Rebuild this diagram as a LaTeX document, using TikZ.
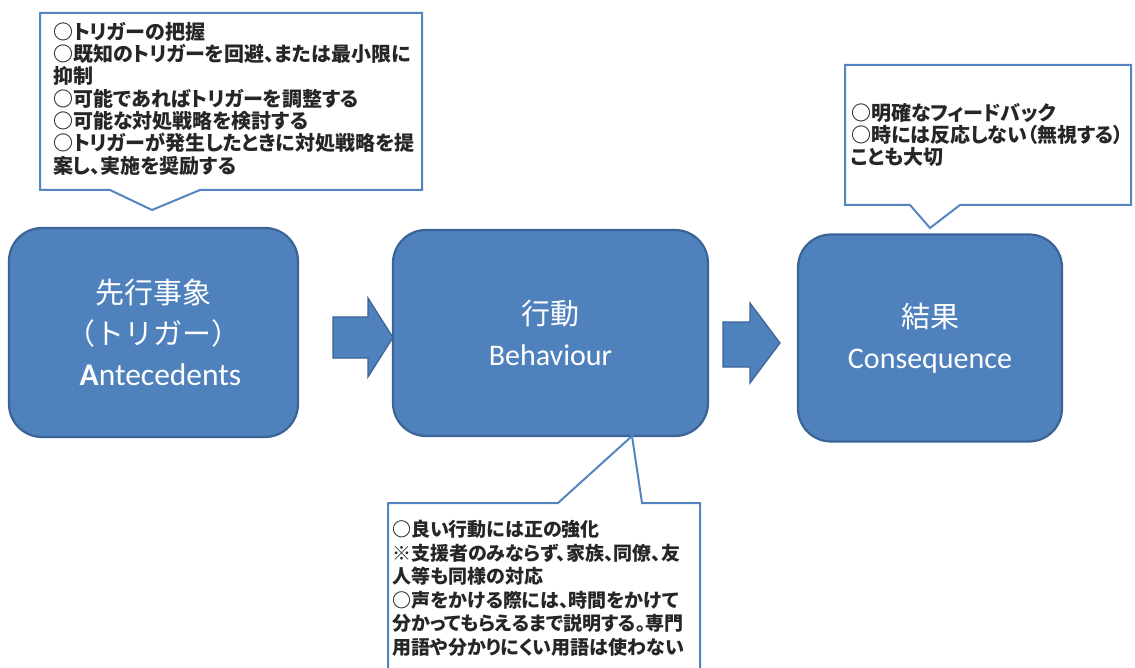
\documentclass[tikz,border=0pt]{standalone}
\usepackage{fontspec}
\setmainfont{Noto Sans CJK JP}
\newfontfamily\jp[RawFeature=+palt]{Noto Sans CJK JP}
\newfontfamily\lat{Carlito}
\definecolor{boxfill}{HTML}{4F81BD}
\definecolor{boxline}{HTML}{3A6496}
\definecolor{calloutline}{HTML}{5585C0}
\definecolor{txt}{HTML}{262626}
\tikzset{
  bigbox/.style={draw=boxline, line width=2.2pt, fill=boxfill, rounded corners=33pt,
    text=white, align=center, inner sep=0pt, font=\fontsize{29}{41}\selectfont},
  flowarrow/.style={draw=boxline, line width=1.2pt, fill=boxfill},
  callout/.style={draw=calloutline, line width=2pt, fill=white},
  callouttext/.style={anchor=north west, inner sep=0pt, align=left, text=txt,
    font=\jp\bfseries\fontsize{20}{22.3}\selectfont},
  callouttextb/.style={callouttext, font=\jp\bfseries\fontsize{19}{23.6}\selectfont}
}
\begin{document}
\begin{tikzpicture}[x=1pt,y=-1pt]
\useasboundingbox (0,0) rectangle (1135,668);
\clip (0,0) rectangle (1135,668);
\fill[white] (0,0) rectangle (1135,668);
% boxes
\node[bigbox, minimum width=289pt, minimum height=209pt] (A) at (153.5,332.5)
  {先行事象\\（トリガー）\\\hspace*{14pt}{\lat\fontsize{31.5}{41}\selectfont\textbf{A}ntecedents}};
\node[bigbox, minimum width=315pt, minimum height=206pt] (B) at (550.5,333)
  {行動\\{\lat\fontsize{30}{41}\selectfont Behaviour}};
\node[bigbox, minimum width=264pt, minimum height=207pt] (C) at (930,338)
  {結果\\{\lat\fontsize{30}{41}\selectfont Consequence}};
% block arrows
\draw[flowarrow] (333,317) -- (368,317) -- (368,298) -- (393,337.5) -- (368,377)
  -- (368,358) -- (333,358) -- cycle;
\draw[flowarrow] (723,322) -- (750,322) -- (750,303) -- (780,343) -- (750,383)
  -- (750,367) -- (723,367) -- cycle;
% callouts
\draw[callout] (40,13) -- (422,13) -- (422,190) -- (200,190) -- (152,210)
  -- (110,190) -- (40,190) -- cycle;
\draw[callout] (845,65) -- (1131,65) -- (1131,205) -- (960,205) -- (930,228)
  -- (910,205) -- (845,205) -- cycle;
\draw[callout] (388,503) -- (558,503) -- (632,436) -- (642,503) -- (700,503)
  -- (700,690) -- (388,690) -- cycle;
\node[callouttext] (t1) at (53,22)
  {○トリガーの把握\\○既知のトリガーを回避、または最小限に\\抑制\\○可能であればトリガーを調整する\\○可能な対処戦略を検討する\\○トリガーが発生したときに対処戦略を提\\案し、実施を奨励する};
\node[callouttext] (t2) at (851,103)
  {○明確なフィードバック\\○時には反応しない（無視する）\\ことも大切};
\node[callouttextb] (t3) at (392,520)
  {○良い行動には正の強化\\※支援者のみならず、家族、同僚、友\\人等も同様の対応\\○声をかける際には、時間をかけて\\分かってもらえるまで説明する。専門\\用語や分かりにくい用語は使わない};
\end{tikzpicture}
\end{document}
